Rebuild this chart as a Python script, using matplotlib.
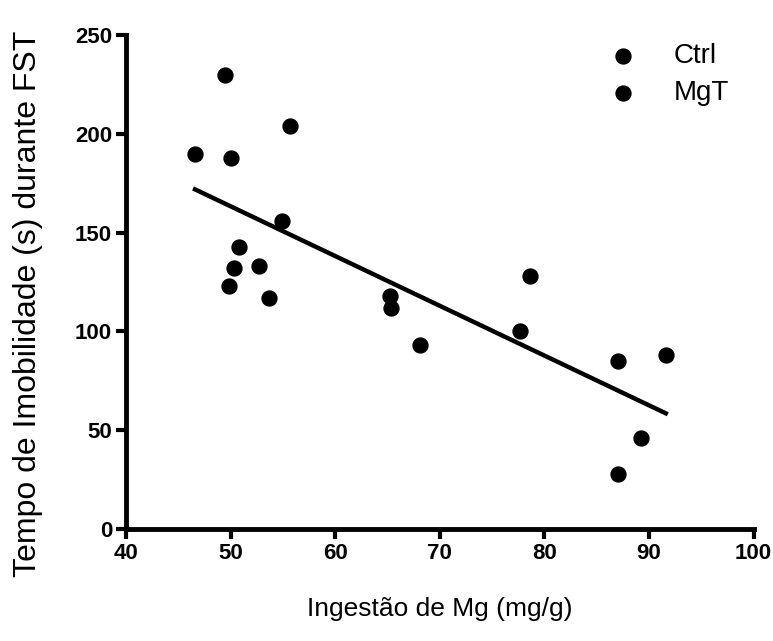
import numpy as np
import matplotlib
matplotlib.use('Agg')
import matplotlib.pyplot as plt

plt.rcParams['font.family'] = ['Liberation Sans', 'DejaVu Sans']

# Ingestao de Mg (mg/g) vs tempo de imobilidade (s)
ctrl_x = [46.6, 49.5, 50.0, 55.7, 54.9, 50.8, 50.3, 52.7, 49.8, 53.7]
ctrl_y = [190, 230, 188, 204, 156, 143, 132, 133, 123, 117]
mgt_x = [65.2, 65.3, 68.1, 77.7, 78.6, 87.0, 91.6, 89.2, 87.0]
mgt_y = [118, 112, 93, 100, 128, 85, 88, 46, 28]

all_x = np.array(ctrl_x + mgt_x)
all_y = np.array(ctrl_y + mgt_y)
slope, intercept = np.polyfit(all_x, all_y, 1)
fit_x = np.array([all_x.min(), all_x.max()])

fig = plt.figure(figsize=(7.73, 6.41), dpi=100)
ax = fig.add_axes([0.163, 0.175, 0.812, 0.770])

ax.scatter(ctrl_x, ctrl_y, s=115, color='black', label='Ctrl', zorder=3)
ax.scatter(mgt_x, mgt_y, s=115, color='black', label='MgT', zorder=3)
ax.plot(fit_x, slope * fit_x + intercept, color='black', lw=3.2)

ax.set_xlim(40, 100)
ax.set_ylim(0, 250)
ax.set_xticks(range(40, 101, 10))
ax.set_yticks(range(0, 251, 50))
for s in ['top', 'right']:
    ax.spines[s].set_visible(False)
for s in ['left', 'bottom']:
    ax.spines[s].set_linewidth(3.5)
ax.tick_params(width=3, length=7, labelsize=16, pad=3)
for lab in ax.get_xticklabels() + ax.get_yticklabels():
    lab.set_fontweight('bold')
    lab.set_family(['Liberation Sans Narrow', 'Liberation Sans', 'DejaVu Sans'])

ax.set_xlabel('Ingestão de Mg (mg/g)', fontsize=19, labelpad=24)
ax.set_ylabel('Tempo de Imobilidade (s) durante FST', fontsize=23)
ax.yaxis.set_label_coords(-0.133, 0.455)

ax.legend(loc='upper right', bbox_to_anchor=(1.0, 1.035), frameon=False,
          fontsize=20, handletextpad=0.8, labelspacing=0.4, scatterpoints=1)

plt.savefig('out.png')
